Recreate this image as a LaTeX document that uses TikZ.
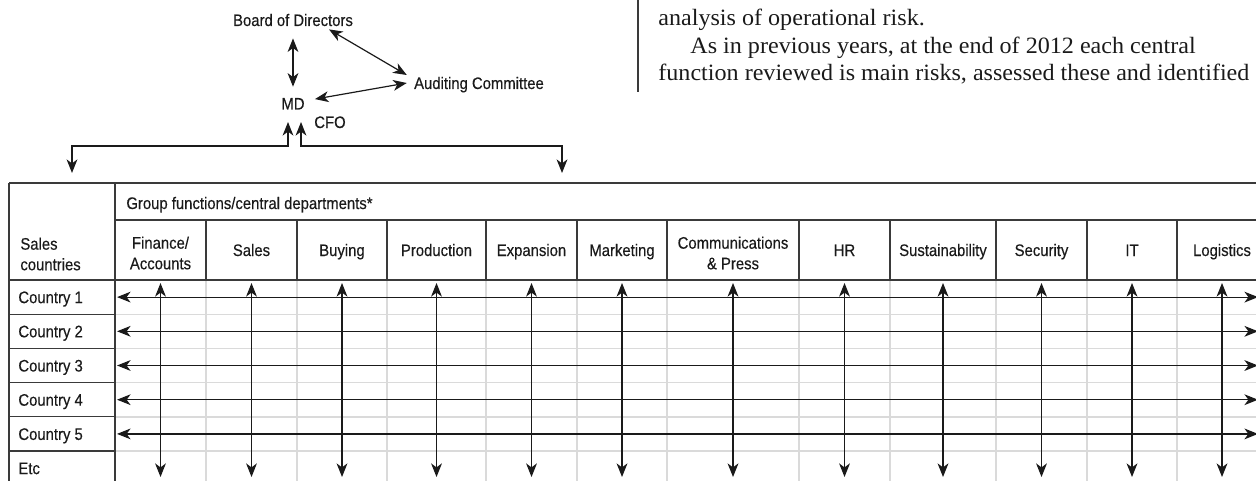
\documentclass[tikz,border=0pt]{standalone}
\usepackage{fontspec}
\setsansfont[FakeStretch=0.89, FakeBold=0.35]{Liberation Sans}
\newfontfamily\bodyserif[FakeStretch=1.03]{Liberation Serif}
\usepackage{tikz}
\usetikzlibrary{positioning, arrows.meta}
\definecolor{gInk}{HTML}{1A1A1A}
\definecolor{gRule}{HTML}{3A3A3A}
\definecolor{gGrid}{HTML}{DADADA}

\begin{document}
\begin{tikzpicture}[x=0.5pt, y=-0.5pt, >={Stealth[length=6.8pt, width=5.4pt, inset=2pt]},
  sans/.style={font=\sffamily\fontsize{8.35}{10.3}\selectfont, text=gInk, inner sep=0pt},
  lbl/.style={sans, text height=6pt, text depth=0pt},
  hcell/.style={sans, align=center},
  link/.style={<->, line width=0.6pt, draw=gInk},
  rule/.style={line width=0.55pt, draw=gRule},
  grid/.style={line width=0.7pt, draw=gGrid},
  prose/.style={font=\bodyserif\fontsize{11.7}{13.75}\selectfont, text=gInk, inner sep=0pt, anchor=base west}]
  \useasboundingbox (0,0) rectangle (1256,481);
  \clip (0,0) rectangle (1256,481);

  \node[lbl] (bod) at (293,20) {Board of Directors};
  \node[lbl] (md) at (293,103.5) {MD};
  \node[lbl] (cfo) at (330,122) {CFO};
  \node[lbl] (ac) at (479,83) {Auditing Committee};
  \draw[link, shorten <=6pt, shorten >=5.2pt] (bod.south) -- (md.north);
  \draw[link] ([xshift=18pt, yshift=-1.5pt]bod.south) -- ([xshift=-3.5pt, yshift=4pt]ac.west);
  \draw[link] ([xshift=5pt, yshift=2.2pt]md.east) -- ([xshift=-3.5pt]ac.west);

  \coordinate (ul) at (288,122);
  \coordinate (ur) at (301,122);
  \coordinate (bus) at (0,146);
  \coordinate (dl) at (72,173);
  \coordinate (dr) at (562,173);
  \draw[link] (ul) -- (ul |- bus) -| (dl);
  \draw[link] (ur) -- (ur |- bus) -| (dr);

  \draw[rule] (638,0) -- (638,92);
  \node[prose] (p1) at (658,26) {analysis of operational risk.};
  \node[prose] (p2) at (690,53.5) {As in previous years, at the end of 2012 each central};
  \node[prose] (p3) at (658,81) {function reviewed is main risks, assessed these and identified};

  % table
  \foreach \x in {206,297,387,486,577,667,799,890,996,1087,1177}
    \draw[grid] (\x,280) -- (\x,490);
  \foreach \k in {1,...,5} {
    \draw[grid] (115,{280+34.2*\k}) -- (1267,{280+34.2*\k});
    \draw[rule] (9,{280+34.2*\k}) -- (115,{280+34.2*\k});
  }
  \draw[rule] (9,183) -- (1267,183);
  \draw[rule] (115,220) -- (1267,220);
  \draw[rule] (9,280) -- (1267,280);
  \draw[rule] (9,183) -- (9,490);
  \draw[rule] (115,183) -- (115,490);
  \foreach \x in {206,297,387,486,577,667,799,890,996,1087,1177}
    \draw[rule] (\x,220) -- (\x,280);

  \node[lbl, anchor=west] (grp) at (126,203) {Group functions/central departments*};
  \node[hcell, align=left, anchor=west] (sc) at (20,254) {Sales\\countries};

  \node[hcell] (h1) at (160.5,253) {Finance/\\Accounts};
  \foreach \l/\r/\t/\i in {206/297/Sales/2, 297/387/Buying/3, 387/486/Production/4,
      486/577/Expansion/5, 577/667/Marketing/6, 799/890/HR/8, 890/996/Sustainability/9,
      996/1087/Security/10, 1087/1177/IT/11, 1177/1267/Logistics/12}
    \node[lbl] (h\i) at ({(\l+\r)/2},250) {\t};
  \node[hcell] (h7) at (733,253) {Communications\\\& Press};

  \foreach \t [count=\i] in {Country 1, Country 2, Country 3, Country 4, Country 5, Etc}
    \node[lbl, anchor=west] (c\i) at (18,{280+34.2*\i-17.1}) {\t};

  \coordinate (rtop) at (0,283);
  \coordinate (rbot) at (0,477);
  \coordinate (lend) at (117,0);
  \coordinate (rend) at (1258,0);
  \foreach \i in {1,...,5}
    \draw[link] (c\i -| lend) -- (c\i -| rend);
  \foreach \i in {1,...,12}
    \draw[link] (h\i |- rtop) -- (h\i |- rbot);
\end{tikzpicture}
\end{document}
